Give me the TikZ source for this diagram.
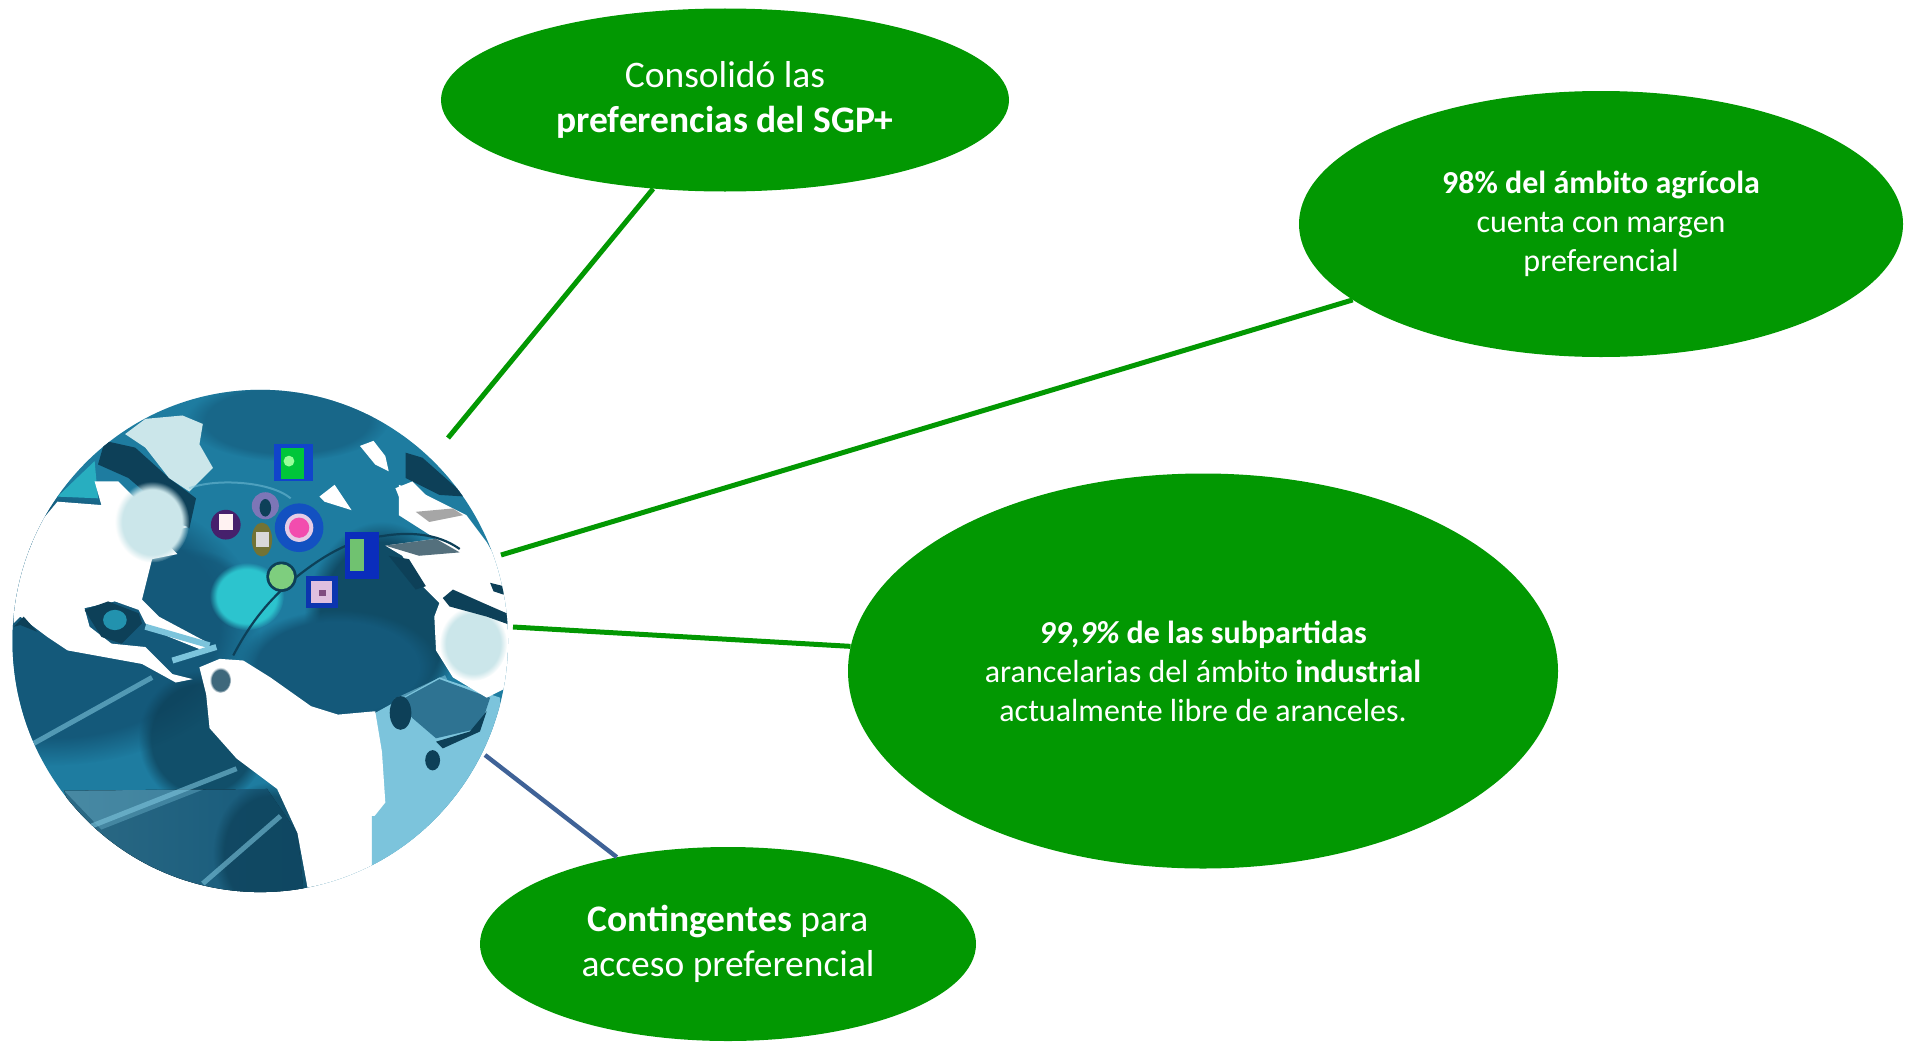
\documentclass[tikz,border=0pt]{standalone}
\usepackage{fontspec}
\setmainfont{Carlito}
\usetikzlibrary{shapes.geometric,fadings}
\definecolor{leaf}{HTML}{029802}
\definecolor{slate}{HTML}{3F6297}
\definecolor{sea}{HTML}{1E7CA0}
\definecolor{deep}{HTML}{14597A}
\definecolor{ink}{HTML}{0D4058}
\definecolor{glow}{HTML}{2CC4CE}
\definecolor{pale}{HTML}{CBE6EA}
\definecolor{ice}{HTML}{7CC4DC}
\tikzset{
  bubble/.style={ellipse,fill=leaf,text=white,inner sep=0pt,align=center},
  link/.style={line width=5pt,draw=leaf},
  linkb/.style={line width=4.4pt,draw=slate},
  big/.style={font=\fontsize{37.5}{45.5}\selectfont},
  small/.style={font=\fontsize{32}{39}\selectfont},
  soft/.style={path fading=circle with fuzzy edge 20 percent},
  beam/.style={line width=5pt,draw=ice,opacity=.6},
}
\begin{document}
\begin{tikzpicture}[x=1pt,y=-1pt]
\useasboundingbox (0,0) rectangle (1910,1041);
% globe
\begin{scope}[shift={(0,380)},x=0.338pt,y=-0.338pt]
\clip (770,772) ellipse [x radius=733,y radius=743];
\fill[sea] (0,0) rectangle (1568,1568);
% darker seas
\fill[deep,soft] (150,720) ellipse [x radius=620,y radius=420];
\fill[ink,opacity=.75,soft] (600,1060) ellipse [x radius=190,y radius=200];
\fill[ink,opacity=.8,soft] (1130,720) ellipse [x radius=230,y radius=300];
\fill[deep,soft] (1000,850) ellipse [x radius=300,y radius=170];
\fill[deep,opacity=.7,soft] (560,620) ellipse [x radius=170,y radius=120];
\fill[glow,soft] (730,640) ellipse [x radius=110,y radius=100];
\fill[deep,opacity=.6,soft] (850,120) ellipse [x radius=300,y radius=120];
% lower band
\fill[left color=deep!70!sea!80!gray,right color=deep] (190,1215) -- (790,1210) -- (880,1340) -- (900,1530) -- (300,1530) -- cycle;
\fill[ice,opacity=.35] (190,1215) -- (600,1212) -- (300,1330) -- cycle;
\fill[ink,soft,opacity=.7] (800,1400) ellipse [x radius=170,y radius=210];
% beams
\draw[beam] (100,1075) -- (450,880);
\draw[beam] (270,1320) -- (700,1150);
\draw[beam] (600,1490) -- (830,1290);
\draw[beam] (1170,950) -- (1320,880);
% ice-blue south east
\fill[ice] (1110,985) -- (1300,880) -- (1480,940) -- (1480,1100) -- (1300,1300) -- (1100,1460) -- cycle;
\fill[deep,opacity=.75] (1180,950) -- (1300,885) -- (1450,940) -- (1420,1030) -- (1290,1060) -- (1220,1000) -- cycle;
\fill[ink] (1185,985) ellipse [x radius=32,y radius=50];
\fill[ink] (1280,1125) ellipse [x radius=22,y radius=30];
\fill[ink] (1290,1070) -- (1390,1040) -- (1440,980) -- (1420,1040) -- (1310,1090) -- cycle;
% Greenland and arctic
\fill[ink] (310,180) -- (400,200) -- (500,290) -- (580,350) -- (560,440) -- (450,350) -- (380,290) -- (290,250) -- cycle;
\fill[pale] (370,160) -- (430,115) -- (540,105) -- (600,130) -- (590,190) -- (630,260) -- (560,330) -- (500,290) -- (430,200) -- cycle;
\fill[glow!70!sea] (170,345) -- (280,240) -- (290,350) -- cycle;
% North America
\fill[white] (40,720) -- (40,620) -- (120,420) -- (170,360) -- (300,370) -- (280,300) -- (350,300) -- (450,400) -- (555,435) -- (470,460) -- (525,515) -- (450,530) -- (430,610) -- (420,650) -- (470,700) -- (620,780) -- (600,800) -- (500,760) -- (430,720) -- (410,680) -- (340,655) -- (250,675) -- (265,730) -- (330,780) -- (430,790) -- (510,870) -- (570,885) -- (520,895) -- (420,840) -- (200,800) -- (140,760) -- (60,700) -- cycle;
\fill[pale,soft] (450,420) ellipse [x radius=110,y radius=120];
\fill[ink] (250,680) -- (320,655) -- (410,690) -- (420,720) -- (360,780) -- (300,760) -- cycle;
\fill[sea!70!glow] (340,710) ellipse [x radius=35,y radius=30];
\fill[ink] (40,730) -- (70,700) -- (110,745) -- (60,725) -- cycle;
\draw[line width=6pt,draw=ice] (430,730) -- (620,785);
\draw[line width=6pt,draw=ice] (510,830) -- (640,790);
% South America
\fill[white] (590,850) -- (650,825) -- (720,830) -- (800,880) -- (920,965) -- (1000,990) -- (1110,980) -- (1130,1100) -- (1140,1250) -- (1100,1300) -- (1100,1480) -- (915,1530) -- (880,1340) -- (820,1210) -- (700,1120) -- (620,1030) -- (610,930) -- cycle;
\fill[deep!60!gray,soft] (652,888) ellipse [x radius=32,y radius=38];
\fill[ice] (1100,1290) -- (1300,1290) -- (1200,1400) -- (1100,1460) -- cycle;
% Africa and Europe
\fill[white] (1180,310) -- (1260,340) -- (1380,400) -- (1440,480) -- (1520,620) -- (1520,900) -- (1440,940) -- (1340,880) -- (1290,800) -- (1285,700) -- (1300,660) -- (1240,600) -- (1190,520) -- (1140,490) -- (1290,470) -- (1180,400) -- cycle;
\fill[pale,soft] (1400,780) ellipse [x radius=100,y radius=110];
\fill[ink] (1310,645) -- (1340,620) -- (1430,660) -- (1510,695) -- (1510,725) -- (1440,700) -- (1330,670) -- cycle;
\fill[ink] (1450,600) -- (1490,610) -- (1490,635) -- (1460,625) -- cycle;
\fill[ink] (1200,215) -- (1250,230) -- (1380,345) -- (1300,340) -- (1200,290) -- cycle;
\fill[white] (1170,320) -- (1220,300) -- (1280,360) -- (1190,370) -- cycle;
\fill[white] (1065,195) -- (1105,180) -- (1140,225) -- (1150,270) -- (1110,250) -- cycle;
\fill[white] (945,345) -- (990,310) -- (1040,385) -- (960,360) -- cycle;
\fill[gray!70] (1230,390) -- (1340,380) -- (1370,400) -- (1270,420) -- cycle;
\fill[gray!60!deep] (1140,490) -- (1290,470) -- (1360,510) -- (1240,520) -- cycle;
\fill[ink] (1150,520) -- (1210,530) -- (1260,610) -- (1230,620) -- cycle;
% route
\draw[line width=2.2pt,draw=ink,line join=round] (690,815) .. controls (740,720) and (800,640) .. (900,565) .. controls (960,520) and (1040,470) .. (1130,462) .. controls (1200,450) and (1290,450) .. (1360,500);
\draw[draw=ice,opacity=.5,line width=2pt] (560,320) .. controls (640,290) and (800,300) .. (860,350);
% icons
\fill[blue!45!sea] (810,190) rectangle (925,300);
\fill[green!55!teal] (830,200) rectangle (900,292);
\fill[green!40!white] (855,240) circle [radius=16];
\fill[blue!35!sea] (885,437) circle [radius=72];
\fill[violet!40!ice] (785,372) circle [radius=40];
\fill[ink] (785,378) ellipse [x radius=17,y radius=26];
\fill[violet!50!ink] (668,428) circle [radius=44];
\fill[white!80!pink] (648,395) rectangle (690,445);
\fill[olive!60!ink] (775,472) ellipse [x radius=30,y radius=50];
\fill[gray!30] (757,450) rectangle (795,495);
\fill[white!80!violet] (885,437) circle [radius=42];
\fill[magenta!70!white] (885,437) circle [radius=30];
\fill[blue!50!deep] (1020,450) rectangle (1120,590);
\fill[green!40!gray!80!white] (1035,470) rectangle (1078,565);
\fill[ink] (833,582) circle [radius=45];
\fill[green!45!gray!70!white] (833,582) circle [radius=37];
\fill[blue!40!deep] (905,580) rectangle (1000,675);
\fill[violet!25!white] (920,595) rectangle (982,660);
\fill[violet!40!gray] (945,620) rectangle (965,640);
\end{scope}
% bubbles
\node[bubble,big,minimum width=568pt,minimum height=183pt] (e1) at (725,100) {Consolidó las\\\textbf{preferencias del SGP+}};
\node[bubble,small,minimum width=604pt,minimum height=266pt] (e2) at (1601,224) {\textbf{98\% del ámbito agrícola}\\cuenta con margen\\preferencial};
\node[bubble,small,minimum width=710pt,minimum height=395pt] (e3) at (1203,671) {\textbf{\textit{99,9\%} de las subpartidas}\\arancelarias del ámbito \textbf{industrial}\\actualmente libre de aranceles.};
\node[bubble,big,minimum width=496pt,minimum height=194pt] (e4) at (728,944) {\textbf{Contingentes} para\\acceso preferencial};
% connector ends at the globe
\coordinate (g1) at (448,438);
\coordinate (g2) at (501,555);
\coordinate (g3) at (513,627);
\coordinate (g4) at (485,755);
\draw[link] (e1.231) -- (g1);
\draw[link] (e2.197) -- (g2);
\draw[link] (e3.176) -- (g3);
\draw[linkb] (e4.142) -- (g4);
\end{tikzpicture}
\end{document}
